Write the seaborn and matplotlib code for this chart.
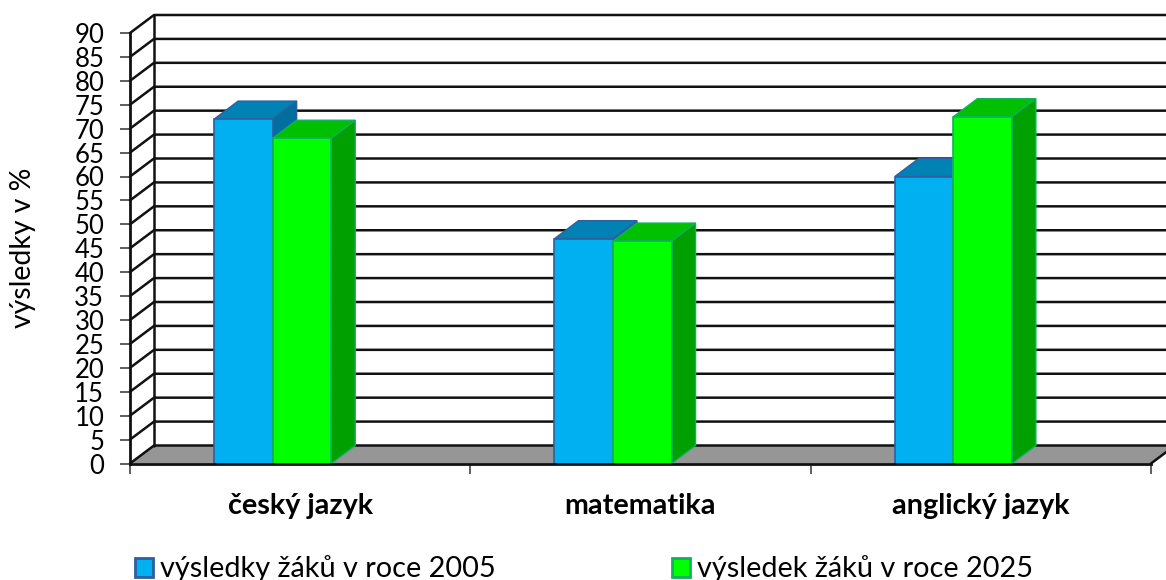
"""Czech test results 2005 vs 2025, Excel style fake-3D column chart."""
import pandas as pd
import matplotlib
matplotlib.use("Agg")
import matplotlib.pyplot as plt
import seaborn as sns
from matplotlib.patches import Polygon, Patch

subjects = ["český jazyk", "matematika", "anglický jazyk"]
series_names = ["výsledky žáků v roce 2005", "výsledek žáků v roce 2025"]
results_2005 = [72, 47, 60]
results_2025 = [68, 46.5, 72.5]
y_ticks = list(range(0, 95, 5))

# front, top, side colours per series
front_colors = ["#00B0F0", "#00FF00"]
top_colors = ["#0082B4", "#00C000"]
side_colors = ["#006FA0", "#00A000"]
edge_colors = ["#2F5F9F", "#10B060"]

sns.set_theme(style="white")
plt.rcParams["font.family"] = ["Lato", "DejaVu Sans"]

df = pd.DataFrame({
    "subject": subjects * 2,
    "series": [series_names[0]] * 3 + [series_names[1]] * 3,
    "value": results_2005 + results_2025,
})

fig = plt.figure(figsize=(11.66, 5.8), dpi=100)
ax = fig.add_axes([130 / 1166, 1 - 463.5 / 580, 1021 / 1166, 430.5 / 580])

sns.barplot(data=df, x="subject", y="value", hue="series", hue_order=series_names,
            palette=front_colors, width=0.344, gap=0, saturation=1, legend=False,
            ax=ax, zorder=5)

ax.set_xlim(-0.5, 2.5)
ax.set_ylim(0, 90)

# depth of the fake 3D in data units
depth_x = 24 / (1021 / 3)
depth_y = 18 / (430.5 / 90)
bar_shift = 27.5 / (1021 / 3)

# back wall and floor
x0, x1 = ax.get_xlim()
far_right = x1 + 0.2
ax.add_patch(Polygon([(x0, 0), (x0 + depth_x, depth_y), (far_right, depth_y), (x1 + depth_x, depth_y),
                      (x1, 0)], closed=True, facecolor="#969696", edgecolor="none",
                     clip_on=False, zorder=1))
line_kw = dict(color="#111111", lw=1.8, clip_on=False, solid_capstyle="round")
for v in y_ticks:
    ax.plot([x0, x0 + depth_x, far_right], [v, v + depth_y, v + depth_y], zorder=2, **line_kw)
ax.plot([x0 + depth_x, x0 + depth_x], [depth_y, 90 + depth_y], zorder=2, **line_kw)
ax.plot([x1, x1 + depth_x], [0, depth_y], zorder=2, **line_kw)

# bars: move off-centre like the original and add top and side faces
for i, container in enumerate(ax.containers):
    for bar in container:
        bar.set_x(bar.get_x() - bar_shift)
        bar.set_edgecolor(edge_colors[i])
        bar.set_linewidth(1.2)
        left, width, height = bar.get_x(), bar.get_width(), bar.get_height()
        right = left + width
        top = [(left, height), (left + depth_x, height + depth_y),
               (right + depth_x, height + depth_y), (right, height)]
        side = [(right, 0), (right + depth_x, depth_y),
                (right + depth_x, height + depth_y), (right, height)]
        ax.add_patch(Polygon(top, closed=True, facecolor=top_colors[i],
                             edgecolor=edge_colors[i], lw=1, zorder=3 + i))
        ax.add_patch(Polygon(side, closed=True, facecolor=side_colors[i],
                             edgecolor=edge_colors[i], lw=1, zorder=3 + i))

for name in ["top", "right"]:
    ax.spines[name].set_visible(False)
for name in ["left", "bottom"]:
    ax.spines[name].set_color("#111111")
    ax.spines[name].set_linewidth(2)
    ax.spines[name].set_zorder(6)

ax.set_yticks(y_ticks)
ax.tick_params(axis="y", length=7, width=1.1, color="#333333", labelsize=18.5, pad=11.5, labelcolor="black", left=True)
ax.set_xticks(range(3))
ax.set_xticks([-0.5, 0.5, 1.5, 2.5], minor=True)
ax.set_xticklabels(subjects, fontweight="bold", fontsize=20.7, color="black")
ax.tick_params(axis="x", which="major", length=0, pad=21)
ax.tick_params(axis="x", which="minor", length=7, width=1.1, color="#333333", bottom=True)
ax.set_xlabel("")
ax.set_ylabel("výsledky v %", fontsize=20.4, color="black")
ax.yaxis.set_label_coords(-0.092, 0.5)

handles = [Patch(facecolor=front_colors[i], edgecolor=edge_colors[i], lw=2) for i in range(2)]
fig.legend(handles, series_names, loc="lower left", bbox_to_anchor=(135 / 1166, -0.004), ncol=2,
           frameon=False, fontsize=20.8, handlelength=0.62, handleheight=0.62, handletextpad=0.24,
           columnspacing=6.1, borderpad=0, borderaxespad=0, labelcolor="black")

fig.savefig("out.png", dpi=100)
